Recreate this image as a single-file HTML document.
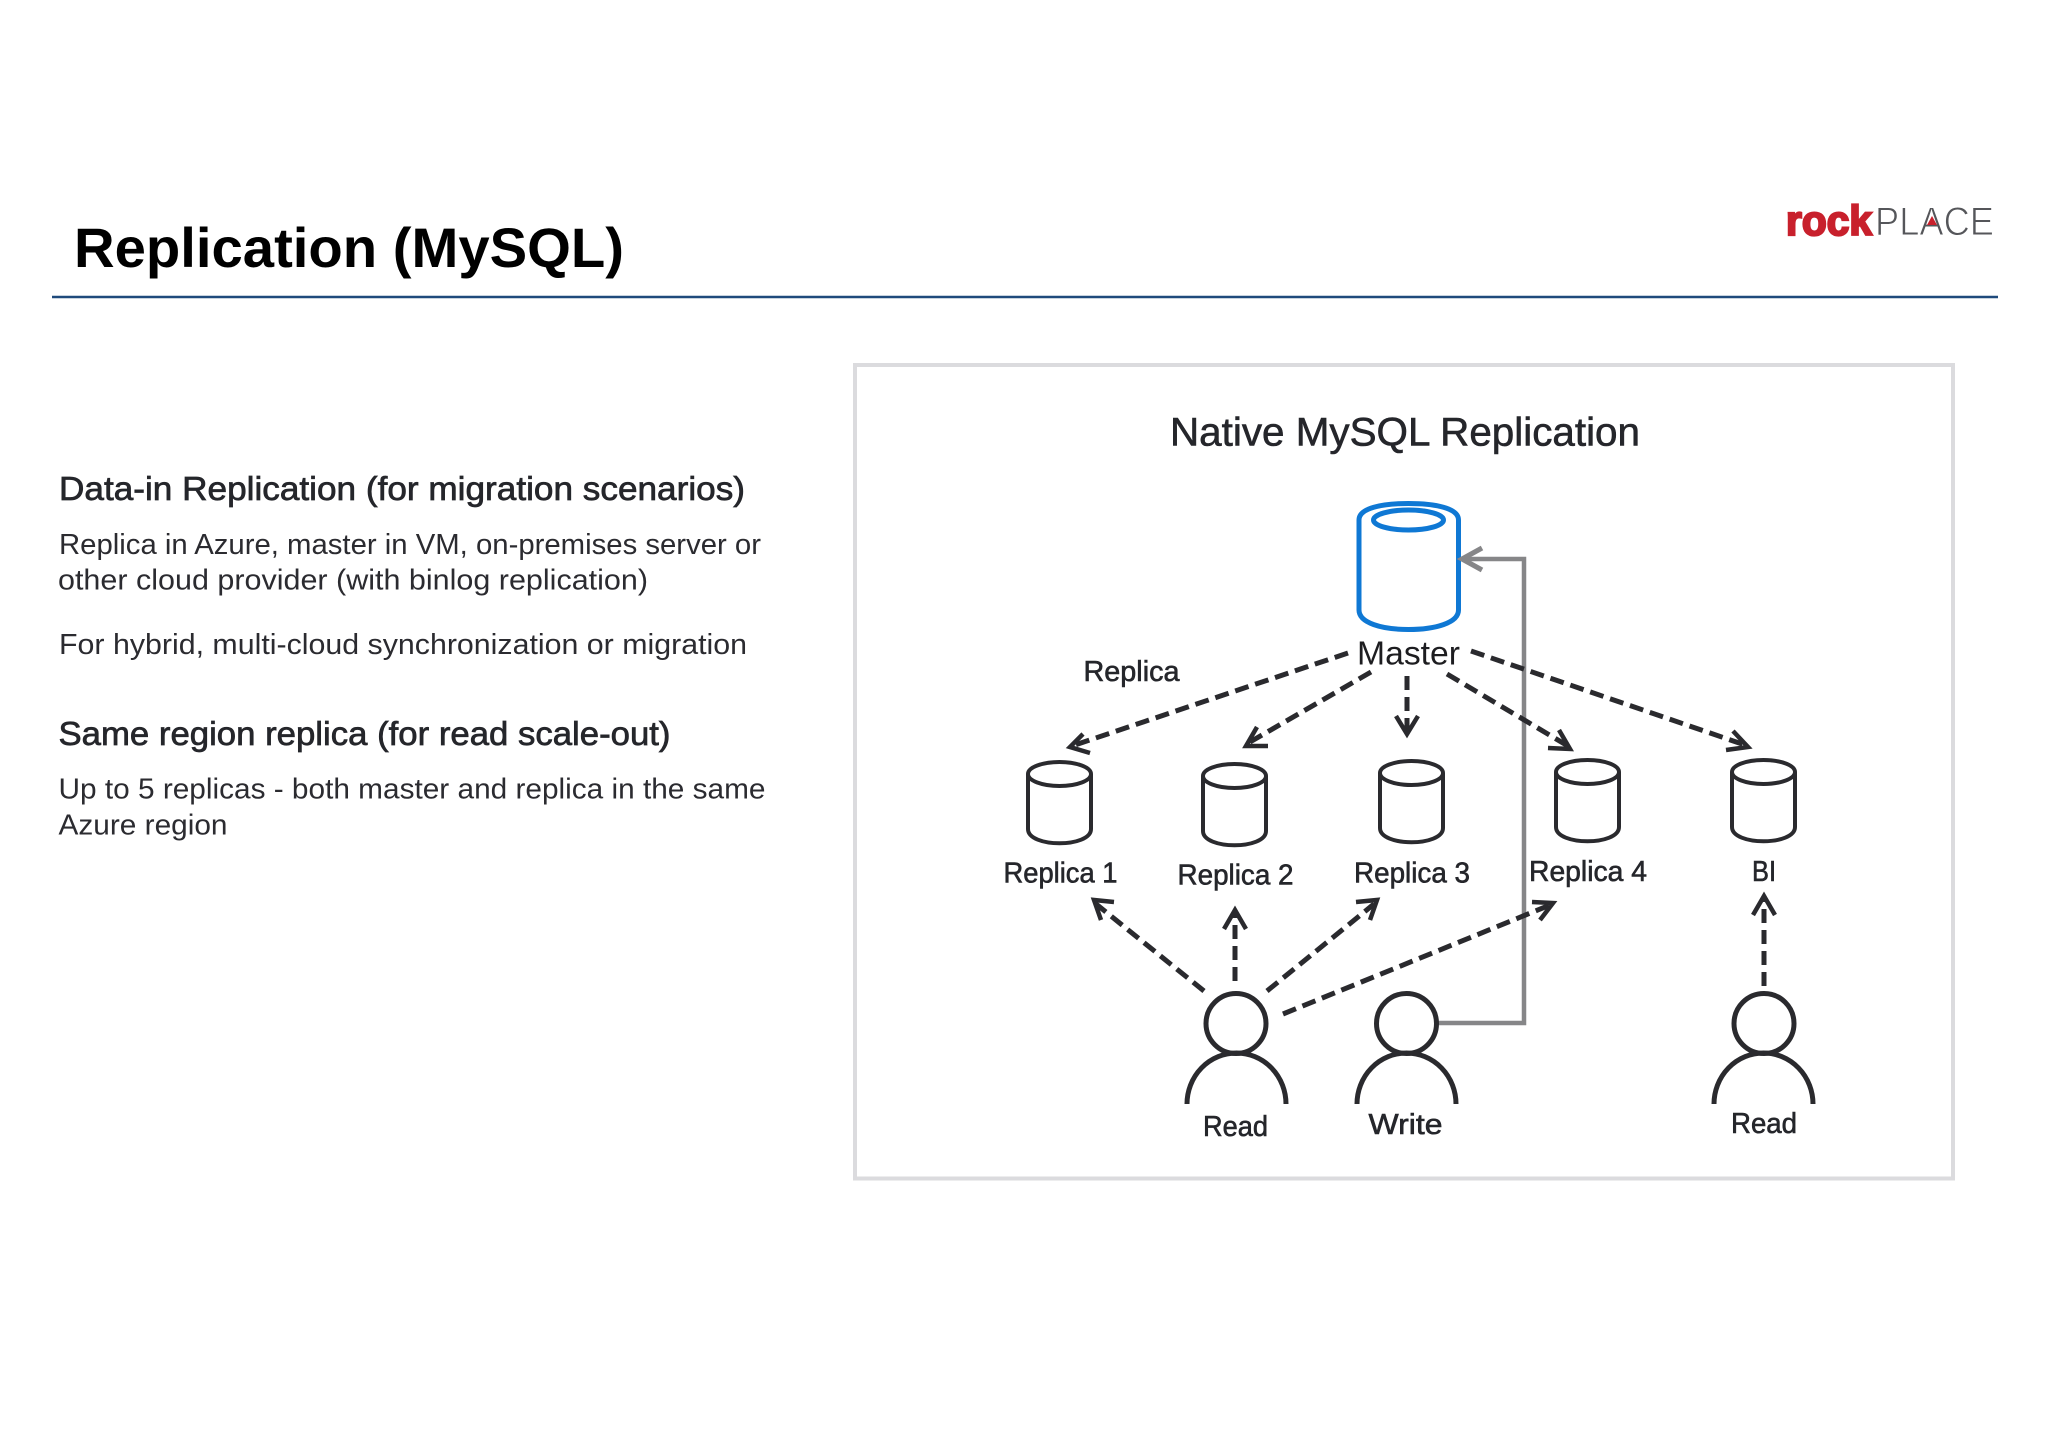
<!DOCTYPE html>
<html lang="en">
<head>
<meta charset="utf-8">
<title>Replication (MySQL)</title>
<style>
html,body{margin:0;padding:0;background:#fff;}
svg{display:block;}
text{font-family:"Liberation Sans",sans-serif;}
.h{font-size:33px;fill:#25262b;stroke:#25262b;stroke-width:.7px;}
.b{font-size:29px;fill:#2b2b30;}
.l{font-size:29px;fill:#25262b;stroke:#25262b;stroke-width:.6px;}
.d{fill:none;stroke:#2a2a2e;stroke-width:5;stroke-dasharray:14 7;}
.a{fill:none;stroke:#2a2a2e;stroke-width:4.500;stroke-linejoin:miter;}
.c{fill:#fff;stroke:#2a2a2e;stroke-width:4;}
.p{fill:none;stroke:#2a2a2e;stroke-width:5;}
</style>
</head>
<body>
<svg width="2048" height="1447" viewBox="0 0 2048 1447" xmlns="http://www.w3.org/2000/svg">
<rect width="2048" height="1447" fill="#fff"/>

<!-- Header -->
<text x="74" y="267" font-size="56" font-weight="bold" fill="#000" textLength="550" lengthAdjust="spacingAndGlyphs">Replication (MySQL)</text>
<line x1="52" y1="297" x2="1998" y2="297" stroke="#1f4a7c" stroke-width="2.500"/>

<!-- Logo -->
<text x="1786" y="235" font-size="42" font-weight="bold" fill="#c8202c" stroke="#c8202c" stroke-width="2.200" textLength="86" lengthAdjust="spacingAndGlyphs">rock</text>
<text x="1875" y="235" font-size="40" fill="#55565a" stroke="#fff" stroke-width="1" textLength="119" lengthAdjust="spacingAndGlyphs">PLACE</text>
<polygon points="1932,216 1937,225 1927,225" fill="#c8202c"/>

<!-- Left column -->
<text class="h" x="59" y="500" textLength="686" lengthAdjust="spacingAndGlyphs">Data-in Replication (for migration scenarios)</text>
<text class="b" x="59" y="554" textLength="702" lengthAdjust="spacingAndGlyphs">Replica in Azure, master in VM, on-premises server or</text>
<text class="b" x="58" y="589.500" textLength="590" lengthAdjust="spacingAndGlyphs">other cloud provider (with binlog replication)</text>
<text class="b" x="59" y="654" textLength="688" lengthAdjust="spacingAndGlyphs">For hybrid, multi-cloud synchronization or migration</text>
<text class="h" x="58.500" y="745" textLength="612" lengthAdjust="spacingAndGlyphs">Same region replica (for read scale-out)</text>
<text class="b" x="58.500" y="798.500" textLength="707" lengthAdjust="spacingAndGlyphs">Up to 5 replicas - both master and replica in the same</text>
<text class="b" x="58.500" y="834.500" textLength="169" lengthAdjust="spacingAndGlyphs">Azure region</text>

<!-- Diagram frame -->
<rect x="855" y="365" width="1098" height="813.500" fill="#fff" stroke="#dbdbde" stroke-width="4"/>
<text x="1170" y="445.500" font-size="40" fill="#25262b" stroke="#25262b" stroke-width=".6" textLength="470" lengthAdjust="spacingAndGlyphs">Native MySQL Replication</text>

<!-- Master cylinder -->
<path d="M1359 520 C1359 508 1382 503.500 1408.500 503.500 C1435 503.500 1458.500 508 1458.500 520 L1458.500 610 C1458.500 623 1435 629.500 1408.500 629.500 C1382 629.500 1359 623 1359 610 Z" fill="#fff" stroke="#0f78d4" stroke-width="5"/>
<ellipse cx="1408.500" cy="520" rx="35" ry="10" fill="none" stroke="#0f78d4" stroke-width="5"/>
<text x="1357" y="664.500" font-size="33" fill="#1d1d20" textLength="103" lengthAdjust="spacingAndGlyphs">Master</text>
<text class="l" x="1083.500" y="681" textLength="96" lengthAdjust="spacingAndGlyphs">Replica</text>

<!-- Grey write connector -->
<polyline points="1436,1023 1524,1023 1524,559 1463,559" fill="none" stroke="#868688" stroke-width="4.500"/>
<polyline points="1482,548 1462,559 1482,570" fill="none" stroke="#868688" stroke-width="5"/>

<!-- Master arrows -->
<line class="d" x1="1348" y1="653" x2="1072" y2="746"/>
<polyline class="a" points="1083,734 1070,747 1090,753"/>
<line class="d" x1="1371" y1="672" x2="1250" y2="742"/>
<polyline class="a" points="1257,727 1246,746 1268,746"/>
<line class="d" x1="1407" y1="676" x2="1407" y2="730"/>
<polyline class="a" points="1396,716 1407,734 1418,716"/>
<line class="d" x1="1447" y1="674" x2="1568" y2="746"/>
<polyline class="a" points="1559,730 1570,749 1548,748"/>
<line class="d" x1="1471" y1="651" x2="1745" y2="745"/>
<polyline class="a" points="1733,731 1748,747 1726,750"/>

<!-- Replica cylinders -->
<g class="c">
<path d="M1028 774 L1028 829 C1028 848 1091 848 1091 829 L1091 774"/>
<ellipse cx="1059.500" cy="774" rx="31.500" ry="12"/>
<path d="M1203 776 L1203 831 C1203 850 1266 850 1266 831 L1266 776"/>
<ellipse cx="1234.500" cy="776" rx="31.500" ry="12"/>
<path d="M1380 773 L1380 828 C1380 847 1443 847 1443 828 L1443 773"/>
<ellipse cx="1411.500" cy="773" rx="31.500" ry="12"/>
<path d="M1556 772 L1556 827 C1556 846 1619 846 1619 827 L1619 772"/>
<ellipse cx="1587.500" cy="772" rx="31.500" ry="12"/>
<path d="M1732 772 L1732 827 C1732 846 1795 846 1795 827 L1795 772"/>
<ellipse cx="1763.500" cy="772" rx="31.500" ry="12"/>
</g>

<text class="l" x="1003.500" y="882.500" textLength="114" lengthAdjust="spacingAndGlyphs">Replica 1</text>
<text class="l" x="1177.500" y="884.500" textLength="116" lengthAdjust="spacingAndGlyphs">Replica 2</text>
<text class="l" x="1354" y="882.500" textLength="116" lengthAdjust="spacingAndGlyphs">Replica 3</text>
<text class="l" x="1529" y="881" textLength="118" lengthAdjust="spacingAndGlyphs">Replica 4</text>
<text class="l" x="1752" y="881" textLength="24" lengthAdjust="spacingAndGlyphs">BI</text>

<!-- Read arrows -->
<line class="d" x1="1204" y1="991" x2="1096" y2="904"/>
<polyline class="a" points="1114,902 1094,900 1101,920"/>
<line class="d" x1="1235" y1="981" x2="1235" y2="913"/>
<polyline class="a" points="1224,929 1235,910 1246,929"/>
<line class="d" x1="1267" y1="991" x2="1374" y2="904"/>
<polyline class="a" points="1356,902 1377,900 1370,920"/>
<line class="d" x1="1283" y1="1014" x2="1550" y2="905"/>
<polyline class="a" points="1532,902 1553,903 1540,920"/>
<line class="d" x1="1764" y1="986" x2="1764" y2="899"/>
<polyline class="a" points="1753,915 1764,896 1775,915"/>

<!-- People -->
<g class="p">
<circle cx="1236" cy="1023.500" r="30"/>
<path d="M1187 1104 A49.500 51 0 0 1 1286 1104"/>
<circle cx="1406.500" cy="1023.500" r="30"/>
<path d="M1357 1104 A49.500 51 0 0 1 1456 1104"/>
<circle cx="1764" cy="1023.500" r="30"/>
<path d="M1714 1104 A49.500 51 0 0 1 1813 1104"/>
</g>
<text class="l" x="1203" y="1136" textLength="65" lengthAdjust="spacingAndGlyphs">Read</text>
<text class="l" x="1368.500" y="1134" textLength="74" lengthAdjust="spacingAndGlyphs">Write</text>
<text class="l" x="1731" y="1133" textLength="66" lengthAdjust="spacingAndGlyphs">Read</text>
</svg>
</body>
</html>
